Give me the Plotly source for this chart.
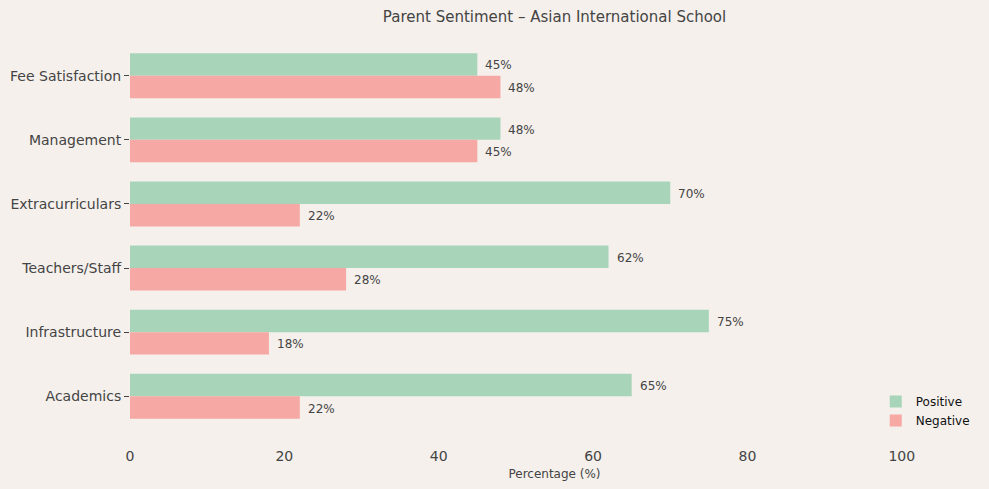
import plotly.graph_objects as go

categories = ["Academics", "Infrastructure", "Teachers/Staff", "Extracurriculars", "Management", "Fee Satisfaction"]
positive = [65, 75, 62, 70, 48, 45]
negative = [22, 18, 28, 22, 45, 48]
x_ticks = [0, 20, 40, 60, 80, 100]

GREEN = "#a8d5ba"
RED = "#f6a8a5"
BG = "#f5f0ec"
TXT = "#444444"

fig = go.Figure()
fig.add_trace(go.Bar(
    y=categories, x=positive, orientation="h", name="Positive",
    marker=dict(color=GREEN, line=dict(width=0)), width=0.35, offset=0,
))
fig.add_trace(go.Bar(
    y=categories, x=negative, orientation="h", name="Negative",
    marker=dict(color=RED, line=dict(width=0)), width=0.35, offset=-0.35,
))

annotations = []
for i, (p, n) in enumerate(zip(positive, negative)):
    annotations.append(dict(x=p, y=i + 0.175, xref="x", yref="y", text=f"{p}%",
                            showarrow=False, xanchor="left", xshift=6, yshift=-1,
                            font=dict(size=12, color=TXT, family="DejaVu Sans")))
    annotations.append(dict(x=n, y=i - 0.175, xref="x", yref="y", text=f"{n}%",
                            showarrow=False, xanchor="left", xshift=6, yshift=-1,
                            font=dict(size=12, color=TXT, family="DejaVu Sans")))

fig.update_layout(
    width=989, height=489,
    paper_bgcolor=BG, plot_bgcolor=BG,
    barmode="overlay",
    margin=dict(l=130, r=10, t=35, b=52),
    font=dict(family="DejaVu Sans", color=TXT, size=14),
    title=dict(text="Parent Sentiment – Asian International School", x=0.5607, xanchor="center",
               y=0.965, yanchor="middle", font=dict(size=15, color=TXT)),
    xaxis=dict(range=[0, 110], tickvals=x_ticks, showgrid=False, zeroline=False,
               showline=False, ticks="outside", ticklen=6, tickcolor="rgba(0,0,0,0)",
               tickfont=dict(size=14, color=TXT),
               title=dict(text="Percentage (%)", font=dict(size=12, color=TXT), standoff=6)),
    yaxis=dict(range=[-0.635, 5.635], showgrid=False, zeroline=False, showline=False,
               ticks="outside", ticklen=5, tickcolor=TXT, tickfont=dict(size=14, color=TXT)),
    legend=dict(x=0.995, y=0.005, xanchor="right", yanchor="bottom", bgcolor="rgba(0,0,0,0)",
                font=dict(size=12, color="#111111"), traceorder="normal"),
    annotations=annotations,
    showlegend=True,
)

fig.write_html("out.html")
